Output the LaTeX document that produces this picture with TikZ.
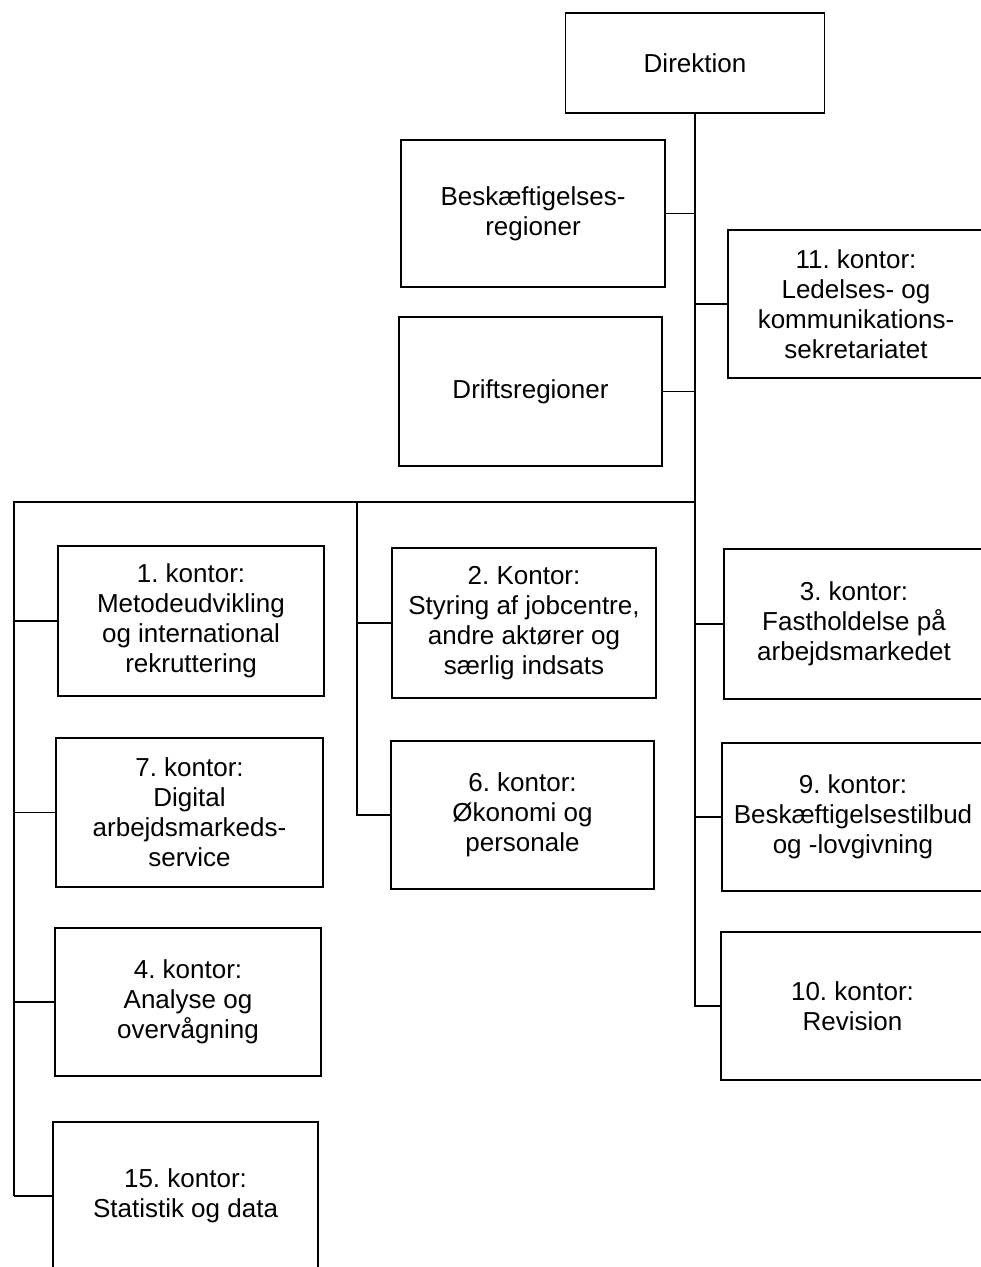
\documentclass[tikz,border=0pt]{standalone}
\usepackage{fontspec}
\setmainfont{Liberation Sans}
\frenchspacing
\begin{document}
\begin{tikzpicture}[x=1pt,y=-1pt,
  orgbox/.style={draw=black,line width=1.8pt,align=center,inner sep=0pt,
    font=\fontsize{26}{30}\selectfont\frenchspacing},
  conn/.style={draw=black,line width=1.6pt}]
\useasboundingbox (0,0) rectangle (981,1267);
\clip (0,0) rectangle (981,1267);
\node[orgbox,minimum width=259pt,minimum height=100pt] (dir) at (695,63) {Direktion};
\node[orgbox,minimum width=264pt,minimum height=147pt] (besk) at (533,213.5) {Beskæftigelses-\\regioner};
\node[orgbox,minimum width=263pt,minimum height=149pt] (drift) at (530.5,391.5) {Driftsregioner};
\node[orgbox,minimum width=256pt,minimum height=148pt] (k11) at (856,304) {11. kontor:\\Ledelses- og\\kommunikations-\\sekretariatet};
\node[orgbox,minimum width=266pt,minimum height=150pt] (k1) at (191,621) {1. kontor:\\Metodeudvikling\\og international\\rekruttering};
\node[orgbox,minimum width=267pt,minimum height=149pt] (k7) at (189.5,812.5) {7. kontor:\\Digital\\arbejdsmarkeds-\\service};
\node[orgbox,minimum width=266pt,minimum height=148pt] (k4) at (188,1002) {4. kontor:\\Analyse og\\overvågning};
\node[orgbox,minimum width=265pt,minimum height=148pt] (k15) at (185.5,1196) {15. kontor:\\Statistik og data};
\node[orgbox,minimum width=264pt,minimum height=150pt] (k2) at (524,623) {2. Kontor:\\Styring af jobcentre,\\andre aktører og\\særlig indsats};
\node[orgbox,minimum width=263pt,minimum height=148pt] (k6) at (522.5,815) {6. kontor:\\Økonomi og\\personale};
\node[orgbox,minimum width=260pt,minimum height=150pt] (k3) at (854,624) {3. kontor:\\Fastholdelse på\\arbejdsmarkedet};
\node[orgbox,minimum width=262pt,minimum height=148pt] (k9) at (853,817) {9. kontor:\\Beskæftigelsestilbud\\og -lovgivning};
\node[orgbox,minimum width=263pt,minimum height=148pt] (k10) at (852.5,1006) {10. kontor:\\Revision};
\coordinate (busL) at (14,502);
\coordinate (busM) at (357,502);
% trunk
\draw[conn] (dir.south) -- (dir.south |- k10.west) -- (k10.west);
\draw[conn] (besk.east) -- (besk.east -| dir.south);
\draw[conn] (drift.east) -- (drift.east -| dir.south);
\draw[conn] (k11.west -| dir.south) -- (k11.west);
\draw[conn] (k3.west -| dir.south) -- (k3.west);
\draw[conn] (k9.west -| dir.south) -- (k9.west);
% bus
\draw[conn] (busL |- k15.west) -- (busL) -- (busL -| dir.south);
\draw[conn] (busL |- k15.west) -- (k15.west);
\draw[conn] (busL |- k1.west) -- (k1.west);
\draw[conn] (busL |- k7.west) -- (k7.west);
\draw[conn] (busL |- k4.west) -- (k4.west);
\draw[conn] (busM) -- (busM |- k6.west) -- (k6.west);
\draw[conn] (busM |- k2.west) -- (k2.west);
\end{tikzpicture}
\end{document}
